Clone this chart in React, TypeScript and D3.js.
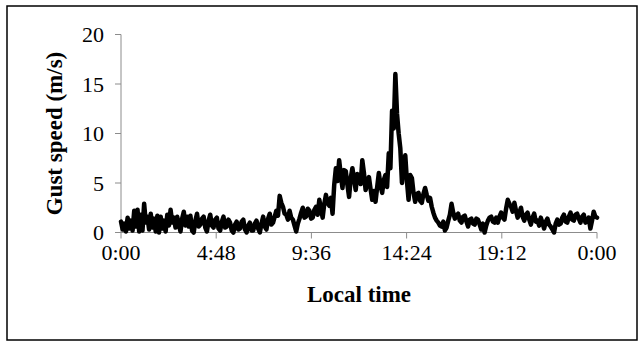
import React from "react";
import * as d3 from "d3";

// Gust speed (m/s) at 5-minute steps from 0:00 to 24:00 (12 values per hour)
const gust: number[] = [
  // 0h
  1.1, 0.3, 0.9, 0.1, 1.5, 0.4, 1.2, 0.2, 2.2, 0.6, 2.3, 0.1,
  // 1h
  1.8, 0.2, 2.9, 1.0, 1.6, 0.3, 1.9, 0.5, 1.4, 0.1, 1.7, 0.0,
  // 2h
  1.6, 0.4, 1.2, 0.1, 1.8, 0.7, 2.3, 1.0, 1.5, 0.5, 1.6, 0.8,
  // 3h
  0.1, 1.4, 2.1, 0.7, 1.6, 0.6, 1.7, 0.2, 0.0, 1.2, 1.9, 0.6,
  // 4h
  0.8, 1.4, 1.6, 0.5, 0.1, 1.2, 1.8, 0.7, 0.5, 1.3, 1.5, 0.4,
  // 5h
  0.2, 1.1, 1.6, 0.5, 0.6, 1.3, 1.0, 0.2, 0.0, 0.8, 1.1, 0.3,
  // 6h
  0.4, 1.1, 1.3, 0.3, 0.0, 0.7, 1.0, 0.2, 0.2, 0.9, 1.2, 0.4,
  // 7h
  0.0, 0.9, 1.6, 0.6, 0.3, 1.4, 1.9, 0.8, 1.0, 1.6, 2.2, 1.7,
  // 8h
  3.7, 3.0, 2.6, 1.9, 1.8, 1.3, 2.2, 1.5, 1.3, 0.7, 0.1, 0.9,
  // 9h
  1.4, 2.0, 2.5, 1.5, 1.6, 2.4, 2.2, 1.4, 1.5, 2.3, 2.6, 1.8,
  // 10h
  3.3, 2.4, 1.5, 2.9, 3.8, 3.0, 2.7, 3.5, 1.9, 4.8, 6.5, 5.2,
  // 11h
  7.3, 5.8, 4.5, 6.3, 6.2, 4.8, 3.6, 5.5, 6.5, 5.4, 4.3, 5.9,
  // 12h
  5.8, 4.9, 7.3, 6.0, 4.3, 5.1, 5.6, 4.4, 3.3, 4.2, 3.1, 4.6,
  // 13h
  6.0, 4.8, 4.0, 5.3, 5.8, 4.6, 8.0, 6.5, 12.3, 10.5, 16.0, 12.0,
  // 14h
  10.0, 8.5, 5.0, 7.0, 7.8, 5.2, 3.3, 5.8, 5.5, 4.0, 3.1, 3.9,
  // 15h
  4.0, 3.2, 3.0, 3.9, 4.5, 3.8, 3.2, 3.5, 2.6, 2.0, 1.5, 1.2,
  // 16h
  1.0, 0.7, 0.6, 1.1, 0.2, 0.5, 1.2, 1.8, 2.9, 2.0, 1.4, 1.7,
  // 17h
  1.9, 1.2, 1.0, 1.6, 1.7, 1.1, 0.6, 1.3, 1.4, 0.9, 0.8, 1.4,
  // 18h
  1.3, 0.8, 0.3, 0.9, 0.0, 0.7, 1.2, 1.5, 1.6, 1.1, 1.0, 1.5,
  // 19h
  1.0, 1.6, 2.0, 1.5, 1.3, 2.4, 3.3, 2.9, 2.6, 2.1, 3.0, 2.2,
  // 20h
  1.5, 2.0, 2.5, 1.6, 1.2, 1.8, 2.0, 1.3, 0.8, 1.5, 1.9, 1.1,
  // 21h
  1.2, 0.7, 1.5, 1.0, 0.4, 1.1, 1.4, 0.8, 0.6, 0.3, 0.0, 0.9,
  // 22h
  1.3, 0.8, 0.9, 1.5, 1.8, 1.1, 1.0, 1.6, 2.0, 1.3, 1.2, 1.8,
  // 23h
  1.9, 1.4, 1.0, 1.6, 1.8, 1.0, 1.1, 1.5, 0.4, 1.2, 2.1, 1.6,
  // 24h
  1.5,
];
const stepMinutes = 5;

const xTickMinutes = [0, 288, 576, 864, 1152, 1440];
const xTickLabels = ["0:00", "4:48", "9:36", "14:24", "19:12", "0:00"];
const yTicks = [0, 5, 10, 15, 20];

const W = 644;
const H = 342;
const plot = { left: 121, right: 597, top: 34.5, bottom: 232.5 };

export default function App() {
  const x = d3.scaleLinear().domain([0, 1440]).range([plot.left, plot.right]);
  const y = d3.scaleLinear().domain([0, 20]).range([plot.bottom, plot.top]);
  const line = d3
    .line<number>()
    .x((_, i) => x(i * stepMinutes))
    .y((d) => y(d));

  const axisColor = "#8c8c8c";
  const font = "'Liberation Serif', 'Times New Roman', serif";

  return (
    <svg
      width={W}
      height={H}
      style={{ position: "absolute", left: 0, top: 0, background: "#fff" }}
    >
      <rect x={0} y={0} width={W} height={H} fill="#fff" />
      <rect x={7} y={6} width={630} height={334} fill="none" stroke="#000" strokeWidth={1.5} />

      {/* y axis */}
      <line x1={plot.left} x2={plot.left} y1={y(20)} y2={y(0)} stroke={axisColor} strokeWidth={1} />
      {yTicks.map((t) => (
        <g key={t}>
          <line x1={plot.left - 6} x2={plot.left} y1={y(t)} y2={y(t)} stroke={axisColor} strokeWidth={1} />
          <text
            x={plot.left - 17}
            y={y(t)}
            dy="0.35em"
            textAnchor="end"
            fontFamily={font}
            fontSize={22}
            fill="#000"
          >
            {t}
          </text>
        </g>
      ))}

      {/* x axis */}
      <line x1={plot.left} x2={plot.right} y1={y(0)} y2={y(0)} stroke={axisColor} strokeWidth={1} />
      {xTickMinutes.map((m, i) => (
        <g key={i}>
          <line x1={x(m)} x2={x(m)} y1={y(0)} y2={y(0) + 6} stroke={axisColor} strokeWidth={1} />
          <text
            x={x(m)}
            y={y(0) + 27}
            textAnchor="middle"
            fontFamily={font}
            fontSize={22}
            fill="#000"
          >
            {xTickLabels[i]}
          </text>
        </g>
      ))}

      <path
        d={line(gust) || ""}
        fill="none"
        stroke="#000"
        strokeWidth={4.5}
        strokeLinejoin="round"
        strokeLinecap="round"
      />

      <text
        x={(plot.left + plot.right) / 2}
        y={302}
        textAnchor="middle"
        fontFamily={font}
        fontSize={23}
        fontWeight="bold"
        fill="#000"
      >
        Local time
      </text>
      <text
        transform={`translate(62, ${(plot.top + plot.bottom) / 2}) rotate(-90)`}
        textAnchor="middle"
        fontFamily={font}
        fontSize={23}
        fontWeight="bold"
        fill="#000"
      >
        Gust speed (m/s)
      </text>
    </svg>
  );
}
